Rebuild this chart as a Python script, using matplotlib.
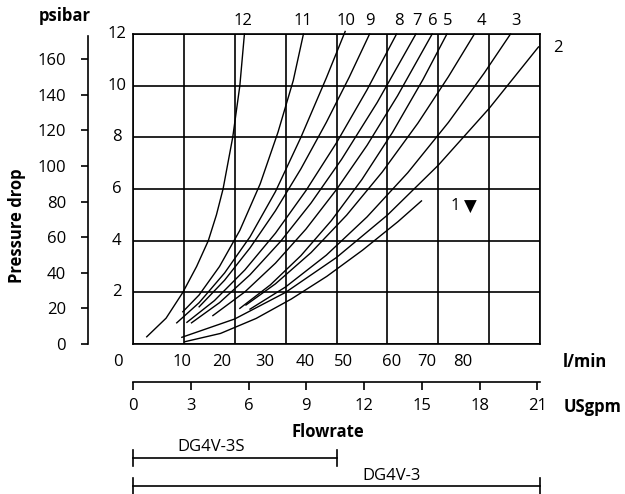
import matplotlib.pyplot as plt
import matplotlib.transforms as mtransforms
import numpy as np

# pressure drop curves (flow in l/min, pressure drop in bar)
q1 = [10.2, 17.2, 24.2, 31.1, 38.1, 45.1, 52.1, 56.7]
p1 = [0.09, 0.41, 0.99, 1.74, 2.62, 3.63, 4.74, 5.54]
q2 = [9.6, 20, 30, 40, 50, 60, 70, 79.7]
p2 = [0.26, 0.97, 2.0, 3.35, 4.99, 6.92, 9.12, 11.5]
q3 = [23, 30, 38, 46, 54, 62, 69, 74.2]
p3 = [1.35, 2.21, 3.44, 4.92, 6.63, 8.58, 10.48, 12.0]
q4 = [22.2, 28, 35, 42, 49, 56, 62, 67.1]
p4 = [1.51, 2.33, 3.54, 4.99, 6.66, 8.55, 10.35, 12.0]
q5 = [21, 27, 33, 39, 45, 51, 57, 61.7]
p5 = [1.38, 2.29, 3.42, 4.78, 6.37, 8.19, 10.24, 12.0]
q6 = [15.7, 22, 28, 34, 40, 46, 52, 58.8]
p6 = [1.10, 2.02, 3.13, 4.45, 5.98, 7.69, 9.61, 12.0]
q7 = [11.5, 17, 23, 29, 35, 41, 48, 55.6]
p7 = [0.82, 1.60, 2.68, 3.97, 5.46, 7.15, 9.35, 12.0]
q8 = [10.6, 16, 22, 28, 34, 40, 46, 51.8]
p8 = [0.84, 1.68, 2.87, 4.29, 5.94, 7.79, 9.84, 12.0]
q9 = [13, 18, 23, 28, 33, 38, 42.5, 46.5]
p9 = [1.44, 2.47, 3.72, 5.16, 6.78, 8.58, 10.33, 12.0]
q10 = [8.6, 13, 18, 23, 28, 33, 38, 41.7]
p10 = [0.82, 1.60, 2.75, 4.15, 5.90, 8.00, 10.30, 12.1]
q11 = [9.8, 13, 17, 21, 25, 28.5, 31.5, 33.5]
p11 = [1.25, 1.90, 3.00, 4.40, 6.20, 8.20, 10.20, 12.0]
q12 = [2.7, 6.5, 9.8, 12.5, 14.8, 16.4, 17.7, 19.6, 21.0, 21.9]
p12 = [0.28, 1.0, 2.0, 3.0, 4.0, 5.0, 6.0, 8.0, 10.0, 12.0]

curve_names = ['1', '2', '3', '4', '5', '6', '7', '8', '9', '10', '11', '12']

# axis labels
bar_ticks = [2, 4, 6, 8, 10, 12]
psi_ticks = [0, 20, 40, 60, 80, 100, 120, 140, 160]
lmin_labels = ['0', '10', '20', '30', '40', '50', '60', '70', '80']
gpm_ticks = [0, 3, 6, 9, 12, 15, 18, 21]

# valve ranges (l/min)
valves = ['DG4V-3S', 'DG4V-3']
valve_max = [40, 80]

plt.rcParams['font.family'] = ['Open Sans', 'DejaVu Sans']
plt.rcParams['font.size'] = 12

fig = plt.figure(figsize=(6.25, 4.94), dpi=100)
ax = fig.add_axes([0.2128, 0.3036, 0.6512, 0.6275])
ax.set_xlim(0, 80)
ax.set_ylim(0, 12)
ax.set_xticks(np.arange(0, 81, 10))
ax.set_yticks(np.arange(0, 13, 2))
ax.tick_params(length=0, labelbottom=False, labelleft=False)
ax.grid(True, color='black', linewidth=1.2)
for s in ax.spines.values():
    s.set_linewidth(1.2)

curves = [(q1, p1), (q2, p2), (q3, p3), (q4, p4), (q5, p5), (q6, p6),
          (q7, p7), (q8, p8), (q9, p9), (q10, p10), (q11, p11), (q12, p12)]
for q, p in curves:
    ax.plot(q, p, color='black', linewidth=1.0, clip_on=False)

# curve numbers above the box
lab_pos = {'12': (21.6, 12.52), '11': (33.4, 12.52), '10': (41.9, 12.52),
           '9': (46.6, 12.52), '8': (52.3, 12.52), '7': (55.8, 12.52),
           '6': (59.0, 12.52), '5': (61.9, 12.52), '4': (68.5, 12.52),
           '3': (75.2, 12.52), '2': (83.5, 11.45), '1': (63.4, 5.34)}
for name in curve_names:
    x, y = lab_pos[name]
    ax.text(x, y, name, ha='center', va='center', clip_on=False)
ax.text(66.4, 5.3, '\u25bc', ha='center', va='center', fontsize=12,
        family='DejaVu Sans')

# bar labels inside the left margin
for v in bar_ticks:
    ax.text(-3.2, v, str(v), ha='center', va='center', clip_on=False)

# psi axis
axp = fig.add_axes(ax.get_position().bounds)
axp.patch.set_visible(False)
for side in ['top', 'right', 'bottom']:
    axp.spines[side].set_visible(False)
axp.spines['left'].set_position(('outward', 32.6))
axp.spines['left'].set_bounds(0, 11.92)
axp.spines['left'].set_linewidth(1.2)
axp.set_ylim(0, 12)
axp.set_xticks([])
axp.set_yticks(np.array(psi_ticks) / 14.5038, [str(v) for v in psi_ticks])
axp.tick_params(axis='y', length=5, width=1.2, pad=10.5)

# l/min labels (placed as on the original sheet)
lmin_pos = [-3.0, 9.6, 17.4, 26.0, 33.8, 41.3, 50.9, 57.7, 64.9]
for x, t in zip(lmin_pos, lmin_labels):
    ax.annotate(t, xy=(x, 0), xycoords=('data', 'axes fraction'),
                xytext=(0, -13), textcoords='offset points', ha='center', va='center')
ax.annotate('l/min', xy=(88.8, 0), xycoords=('data', 'axes fraction'),
            xytext=(0, -13), textcoords='offset points', ha='center', va='center',
            fontweight='bold')

# USgpm axis
axg = ax.secondary_xaxis(-0.1235, functions=(lambda x: x / 3.785, lambda x: x * 3.785))
axg.set_xticks(gpm_ticks)
axg.tick_params(length=5.5, width=1.2, pad=5.5)
axg.spines['bottom'].set_linewidth(1.2)
ax.annotate('USgpm', xy=(90.4, 0), xycoords=('data', 'axes fraction'),
            xytext=(0, -45.5), textcoords='offset points', ha='center', va='center',
            fontweight='bold')

fig.text(0.5248, 0.1261, 'Flowrate', ha='center', va='center', fontweight='bold')
fig.text(0.0272, 0.543, 'Pressure drop', ha='center', va='center', rotation=90,
         fontweight='bold')
fig.text(0.104, 0.9676, 'psibar', ha='center', va='center', fontweight='bold')

# valve range bars
trans = mtransforms.blended_transform_factory(ax.transData, fig.transFigure)
bar_y = [0.0723, 0.0168]
text_y = [0.0951, 0.0364]
text_x = [15.3, 50.9]
for name, vmax, yb, yt, xt in zip(valves, valve_max, bar_y, text_y, text_x):
    ax.plot([0, vmax], [yb, yb], transform=trans, color='black', linewidth=1.2, clip_on=False)
    ax.plot([0, 0], [yb - 0.016, yb + 0.016], transform=trans, color='black', linewidth=1.2, clip_on=False)
    ax.plot([vmax, vmax], [yb - 0.016, yb + 0.016], transform=trans, color='black', linewidth=1.2, clip_on=False)
    ax.text(xt, yt, name, transform=trans, ha='center', va='center')

plt.savefig('out.png', dpi=100)
